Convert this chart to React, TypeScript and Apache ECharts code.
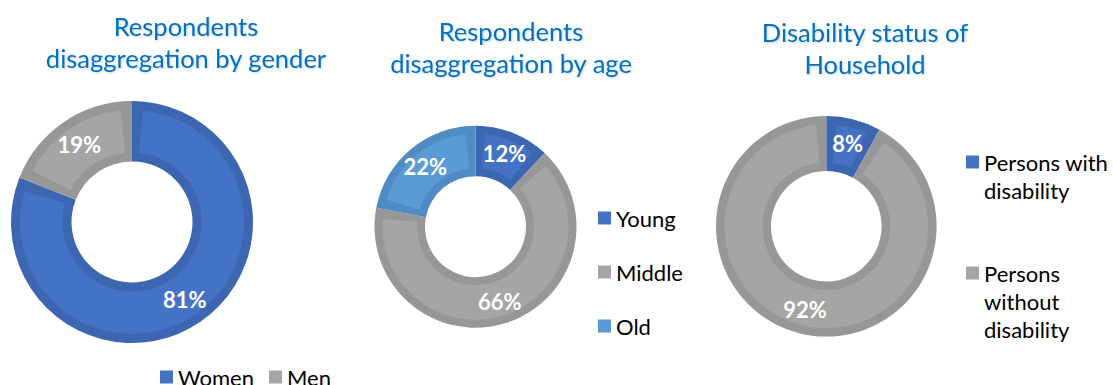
import React, { useEffect, useRef } from "react";
import * as echarts from "echarts";

// ---- data ----
const genderCategories = ["Women", "Men"];
const genderValues = [81, 19];
const ageCategories = ["Young", "Middle", "Old"];
const ageValues = [12, 66, 22];
const disabilityCategories = ["Persons with disability", "Persons without disability"];
const disabilityValues = [8, 92];
const chartTitles = [
  "Respondents\ndisaggregation by gender",
  "Respondents\ndisaggregation by age",
  "Disability status of\nHousehold",
];

// ---- styles ----
const FONT = 'Lato, "Open Sans", sans-serif';
const BLUE = "#4472C4";
const BLUE_BAND = "#3D66B1";
const GRAY = "#A5A5A5";
const GRAY_BAND = "#979797";
const LBLUE = "#5B9BD5";
const LBLUE_BAND = "#518BC4";
const TITLE_COLOR = "#0070C0";

function donut(
  names: string[],
  values: number[],
  fills: string[],
  bands: string[],
  center: [number, number],
  rIn: number,
  rOut: number,
  band: number
) {
  const mid = (rIn + rOut) / 2;
  const pad = ((2 * band) / mid) * (180 / Math.PI);
  const base = {
    type: "pie",
    center,
    startAngle: 90,
    clockwise: true,
    avoidLabelOverlap: false,
    labelLine: { show: false },
    emphasis: { disabled: true },
    silent: true,
  };
  return [
    {
      ...base,
      z: 3,
      radius: [rIn + band, rOut - band],
      padAngle: pad,
      data: names.map((n, i) => ({ name: n, value: values[i], itemStyle: { color: fills[i] } })),
      label: {
        show: true,
        position: "inside",
        formatter: (p: any) => `${p.value}%`,
        color: "#FFFFFF",
        fontFamily: FONT,
        fontWeight: "bold",
        fontSize: 22,
      },
    },
    {
      ...base,
      z: 2,
      radius: [rIn, rOut],
      data: names.map((n, i) => ({ name: n, value: values[i], itemStyle: { color: bands[i] } })),
      label: { show: false },
    },
  ];
}

export default function App() {
  const ref = useRef<HTMLDivElement>(null);
  useEffect(() => {
    document.body.style.margin = "0";
    if (!ref.current) return;
    const chart = echarts.init(ref.current, undefined, { renderer: "svg" });
    const titleStyle = {
      color: TITLE_COLOR,
      fontFamily: FONT,
      fontSize: 25.5,
      fontWeight: "normal",
      lineHeight: 32,
      textShadowColor: "rgba(0,0,0,0.18)",
      textShadowBlur: 2,
      textShadowOffsetX: 1,
      textShadowOffsetY: 1,
    };
    const legendText = { color: "#000000", fontFamily: FONT, fontSize: 22, lineHeight: 22 };
    const option: any = {
      animation: false,
      backgroundColor: "#FFFFFF",
      title: [
        { text: chartTitles[0], left: 186, top: 10, padding: 0, textAlign: "center", textStyle: titleStyle },
        { text: chartTitles[1], left: 511, top: 15, padding: 0, textAlign: "center", textStyle: titleStyle },
        { text: chartTitles[2], left: 865, top: 16, padding: 0, textAlign: "center", textStyle: titleStyle },
      ],
      legend: [
        {
          data: genderCategories.map((n, i) => ({ name: n, itemStyle: { color: [BLUE, GRAY][i] } })),
          orient: "horizontal",
          left: 160,
          top: 366,
          padding: 0,
          itemWidth: 13,
          itemHeight: 13,
          itemGap: 15,
          icon: "rect",
          selectedMode: false,
          textStyle: { ...legendText, lineHeight: 18 },
        },
        {
          data: ageCategories.map((n, i) => ({ name: n, itemStyle: { color: [BLUE, GRAY, LBLUE][i] } })),
          orient: "vertical",
          left: 598,
          top: 207,
          padding: 0,
          itemWidth: 13,
          itemHeight: 13,
          itemGap: 32,
          icon: "rect",
          selectedMode: false,
          textStyle: legendText,
        },
        {
          data: [disabilityCategories[0]],
          orient: "vertical",
          left: 961,
          top: 148,
          padding: 0,
          icon: "none",
          itemWidth: 0,
          itemHeight: 0,
          selectedMode: false,
          formatter: () => "{sq|}{g|}{t|Persons with}\n{ind|}{t|disability}",
          textStyle: {
            ...legendText,
            rich: {
              sq: { width: 13, height: 13, backgroundColor: BLUE },
              g: { width: 5 },
              ind: { width: 18 },
              t: { ...legendText, lineHeight: 28 },
            },
          },
        },
        {
          data: [disabilityCategories[1]],
          orient: "vertical",
          left: 961,
          top: 259,
          padding: 0,
          icon: "none",
          itemWidth: 0,
          itemHeight: 0,
          selectedMode: false,
          formatter: () => "{sq|}{g|}{t|Persons}\n{ind|}{t|without}\n{ind|}{t|disability}",
          textStyle: {
            ...legendText,
            rich: {
              sq: { width: 13, height: 13, backgroundColor: GRAY },
              g: { width: 5 },
              ind: { width: 18 },
              t: { ...legendText, lineHeight: 28 },
            },
          },
        },
      ],
      series: [
        ...donut(genderCategories, genderValues, [BLUE, GRAY], [BLUE_BAND, GRAY_BAND], [132, 222], 60.5, 121, 9),
        ...donut(ageCategories, ageValues, [BLUE, GRAY, LBLUE], [BLUE_BAND, GRAY_BAND, LBLUE_BAND], [475.5, 226.7], 50.5, 101, 8),
        ...donut(disabilityCategories, disabilityValues, [BLUE, GRAY], [BLUE_BAND, GRAY_BAND], [826.3, 226.3], 55.3, 110.3, 8.5),
      ],
    };
    chart.setOption(option);
    return () => chart.dispose();
  }, []);
  return <div ref={ref} style={{ width: 1113, height: 385 }} />;
}
